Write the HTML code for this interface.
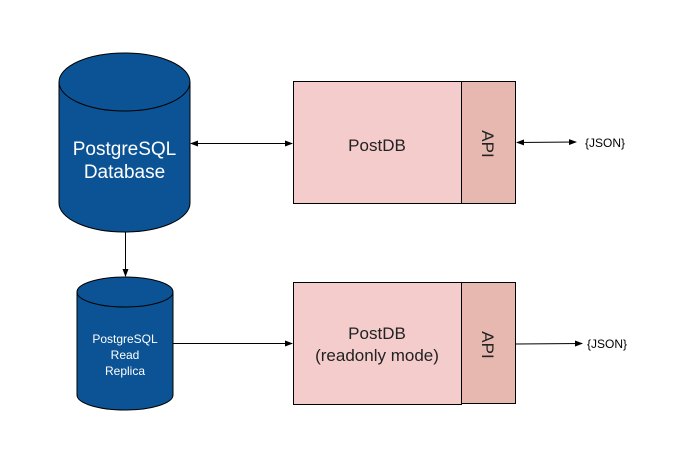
<!DOCTYPE html>
<html><head><style>body{margin:0;background:#fff}</style></head><body>
<svg width="681" height="465" xmlns="http://www.w3.org/2000/svg" font-family="Liberation Sans, sans-serif">
<defs><marker id="a" markerWidth="8" markerHeight="6" refX="7" refY="3" orient="auto-start-reverse"><path d="M0,0L8,3L0,6z" fill="#000"/></marker></defs>
<rect width="681" height="465" fill="#fff"/>
<path d="M59,82 A65.5,29 0 0 1 190,82 L190,203 A65.5,29 0 0 1 59,203 Z" fill="#0b5394" stroke="#000"/>
<path d="M59,82 A65.5,29 0 0 0 190,82" fill="none" stroke="#000"/>
<text x="124.5" y="155" fill="#fff" font-size="19" text-anchor="middle">PostgreSQL</text>
<text x="124.5" y="178" fill="#fff" font-size="19" text-anchor="middle">Database</text>
<path d="M77,292 A48,15 0 0 1 173,292 L173,395 A48,15 0 0 1 77,395 Z" fill="#0b5394" stroke="#000"/>
<path d="M77,292 A48,15 0 0 0 173,292" fill="none" stroke="#000"/>
<text x="125" y="343" fill="#fff" font-size="12" text-anchor="middle">PostgreSQL</text>
<text x="125" y="359" fill="#fff" font-size="12" text-anchor="middle">Read</text>
<text x="125" y="375" fill="#fff" font-size="12" text-anchor="middle">Replica</text>
<line x1="125.5" y1="232" x2="125.5" y2="276" stroke="#000" marker-end="url(#a)"/>
<line x1="191" y1="143.5" x2="292" y2="143.5" stroke="#000" marker-start="url(#a)" marker-end="url(#a)"/>
<line x1="173" y1="343.5" x2="292" y2="343.5" stroke="#000" marker-end="url(#a)"/>
<rect x="293.5" y="81.5" width="168" height="122" fill="#f4cccc" stroke="#000"/>
<rect x="461.5" y="81.5" width="54" height="122" fill="#e6b8af" stroke="#000"/>
<rect x="293.5" y="282.5" width="168" height="122" fill="#f4cccc" stroke="#000"/>
<rect x="461.5" y="282.5" width="54" height="121" fill="#e6b8af" stroke="#000"/>
<text x="377" y="151" font-size="17" text-anchor="middle" fill="#222">PostDB</text>
<text x="377" y="339" font-size="17" text-anchor="middle" fill="#222">PostDB</text>
<text x="377" y="361" font-size="17" text-anchor="middle" fill="#222">(readonly mode)</text>
<text transform="translate(482,144) rotate(90)" font-size="17" text-anchor="middle" fill="#222">API</text>
<text transform="translate(482,345) rotate(90)" font-size="17" text-anchor="middle" fill="#222">API</text>
<line x1="517" y1="142.5" x2="576" y2="142" stroke="#000" marker-start="url(#a)" marker-end="url(#a)"/>
<line x1="516" y1="344" x2="582" y2="343.5" stroke="#000" marker-end="url(#a)"/>
<text x="585" y="147" font-size="12" fill="#000">{JSON}</text>
<text x="587" y="348" font-size="12" fill="#000">{JSON}</text>
</svg>
</body></html>
